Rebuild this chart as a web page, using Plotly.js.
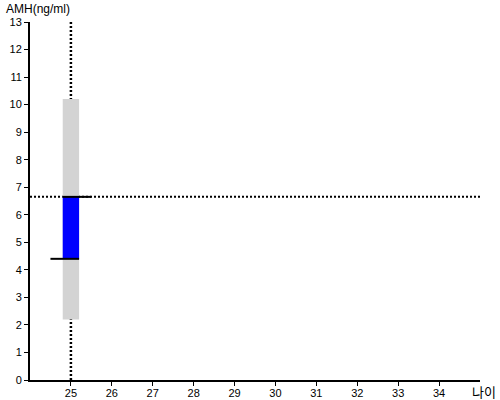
<!DOCTYPE html>
<html>
<head>
<meta charset="utf-8">
<script src="https://cdn.plot.ly/plotly-3.0.1.min.js"></script>
<style>html,body{margin:0;padding:0;background:#fff;}#chart{width:500px;height:400px;}</style>
</head>
<body>
<div id="chart"></div>
<script>
// Data
const ages = [25];
const rangeLow = [2.2];
const rangeHigh = [10.2];
const valueLow = [4.4];
const valueHigh = [6.65];
const refAge = 25;
const refValue = 6.65;
const xTicks = [25, 26, 27, 28, 29, 30, 31, 32, 33, 34];
const yTicks = [0, 1, 2, 3, 4, 5, 6, 7, 8, 9, 10, 11, 12, 13];
const xRange = [24, 35];
const yRange = [0, 13];
const yTitle = 'AMH(ng/ml)';
const xTitle = '나이';

const barWidth = 0.4;
const font = 'Liberation Sans, Arial, sans-serif';

const traces = [
  {
    type: 'bar', x: ages, base: rangeLow,
    y: rangeHigh.map((h, i) => h - rangeLow[i]),
    width: barWidth, marker: {color: '#d3d3d3', line: {width: 0}},
    hoverinfo: 'skip', showlegend: false
  },
  {
    type: 'bar', x: ages, base: valueLow,
    y: valueHigh.map((h, i) => h - valueLow[i]),
    width: barWidth, marker: {color: '#0000ff', line: {width: 0}},
    hoverinfo: 'skip', showlegend: false
  },
  {
    type: 'scatter', mode: 'lines',
    x: [ages[0] - barWidth / 2, ages[0] + 0.5], y: [valueHigh[0], valueHigh[0]],
    line: {color: '#000', width: 2}, hoverinfo: 'skip', showlegend: false
  },
  {
    type: 'scatter', mode: 'lines',
    x: [ages[0] - 0.5, ages[0] + barWidth / 2], y: [valueLow[0], valueLow[0]],
    line: {color: '#000', width: 2}, hoverinfo: 'skip', showlegend: false
  }
];

const layout = {
  width: 500, height: 400,
  margin: {l: 30, r: 20, t: 22, b: 20, pad: 0},
  paper_bgcolor: '#fff', plot_bgcolor: '#fff',
  showlegend: false,
  barmode: 'overlay',
  font: {family: font, size: 11, color: '#000'},
  xaxis: {
    range: xRange, tickvals: xTicks, ticktext: xTicks.map(String),
    showgrid: false, zeroline: false, showline: true, linecolor: '#000', linewidth: 2,
    ticks: 'outside', ticklen: 4, tickwidth: 1, tickcolor: '#000', ticklabelstandoff: -2,
    tickfont: {family: font, size: 11, color: '#000'}, fixedrange: true
  },
  yaxis: {
    range: yRange, tickvals: yTicks, ticktext: yTicks.map(String),
    showgrid: false, zeroline: false, showline: true, linecolor: '#000', linewidth: 2,
    ticks: 'outside', ticklen: 4, tickwidth: 1, tickcolor: '#000',
    tickfont: {family: font, size: 11, color: '#000'}, fixedrange: true
  },
  shapes: [
    {type: 'line', layer: 'below', xref: 'x', yref: 'y', x0: refAge, x1: refAge, y0: yRange[0], y1: yRange[1],
     line: {color: '#000', width: 2.5, dash: '2px,2px'}},
    {type: 'line', layer: 'below', xref: 'x', yref: 'y', x0: xRange[0], x1: xRange[1], y0: refValue, y1: refValue,
     line: {color: '#000', width: 2, dash: '2px,2px'}}
  ],
  annotations: [
    {text: yTitle, xref: 'paper', yref: 'paper', x: 0, y: 1, xshift: -26, yshift: 4,
     xanchor: 'left', yanchor: 'bottom', showarrow: false, font: {family: font, size: 12, color: '#000'}},
    {text: xTitle, xref: 'paper', yref: 'paper', x: 1, y: 0, xshift: 18, yshift: -23,
     xanchor: 'right', yanchor: 'bottom', showarrow: false, font: {family: 'Noto Sans CJK KR, sans-serif', size: 13, color: '#000'}}
  ]
};

Plotly.newPlot('chart', traces, layout, {displayModeBar: false, staticPlot: true});
</script>
</body>
</html>
